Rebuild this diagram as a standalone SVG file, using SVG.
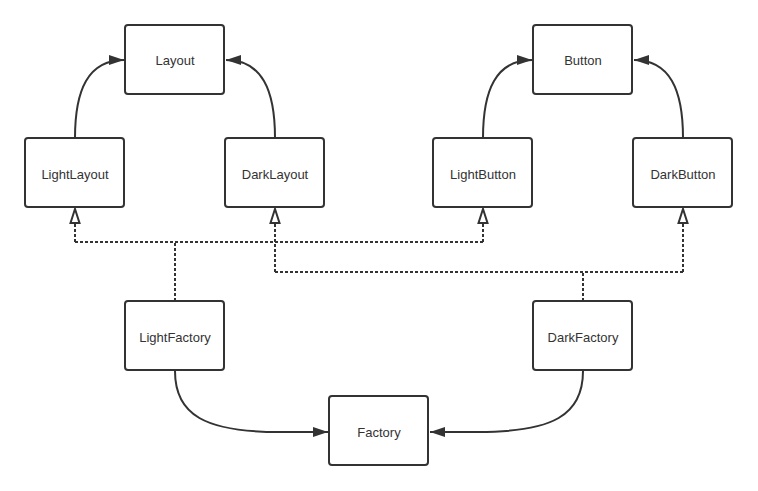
<svg xmlns="http://www.w3.org/2000/svg" width="758" height="491" viewBox="0 0 758 491">
<defs>
<style>
.box{fill:#fff;stroke:#333;stroke-width:2}
.lbl{font-family:"Liberation Sans",Arial,sans-serif;font-size:13px;fill:#333;text-anchor:middle;dominant-baseline:central}
.solid{fill:none;stroke:#333;stroke-width:2}
.dash{fill:none;stroke:#333;stroke-width:2;stroke-dasharray:3 2}
</style>
<marker id="fill" markerWidth="16" markerHeight="12" refX="15" refY="6" orient="auto" markerUnits="userSpaceOnUse">
<path d="M0,1 L15,6 L0,11 Z" fill="#333"/>
</marker>
<marker id="hollow" markerWidth="18" markerHeight="14" refX="15" refY="7" orient="auto" markerUnits="userSpaceOnUse">
<path d="M1,2.5 L15,7 L1,11.5 Z" fill="#fff" stroke="#333" stroke-width="2"/>
</marker>
</defs>
<rect width="758" height="491" fill="#fff"/>
<g id="connectors">
<path class="solid" d="M75,138 C75,90 88,60 124,60" marker-end="url(#fill)"/>
<path class="solid" d="M275,138 C275,90 262,60 226,60" marker-end="url(#fill)"/>
<path class="solid" d="M483,138 C483,90 496,60 532,60" marker-end="url(#fill)"/>
<path class="solid" d="M683,138 C683,90 670,60 634,60" marker-end="url(#fill)"/>
<path class="solid" d="M175,371 C175,415 205,432 280,432 L328,432" marker-end="url(#fill)"/>
<path class="solid" d="M583,371 C583,415 553,432 478,432 L430,432" marker-end="url(#fill)"/>
<path class="dash" d="M175,301 L175,242"/>
<path class="dash" d="M75,242 L483,242"/>
<path class="dash" d="M75,242 L75,209" marker-end="url(#hollow)"/>
<path class="dash" d="M483,242 L483,209" marker-end="url(#hollow)"/>
<path class="dash" d="M583,301 L583,272"/>
<path class="dash" d="M275,272 L683,272"/>
<path class="dash" d="M275,272 L275,209" marker-end="url(#hollow)"/>
<path class="dash" d="M683,272 L683,209" marker-end="url(#hollow)"/>
</g>
<g id="Layout"><rect class="box" x="125" y="25" width="99" height="69" rx="3"/><text class="lbl" x="175" y="60">Layout</text></g>
<g id="Button"><rect class="box" x="533" y="25" width="99" height="69" rx="3"/><text class="lbl" x="583" y="60">Button</text></g>
<g id="LightLayout"><rect class="box" x="25" y="138" width="99" height="69" rx="3"/><text class="lbl" x="75" y="174">LightLayout</text></g>
<g id="DarkLayout"><rect class="box" x="225" y="138" width="99" height="69" rx="3"/><text class="lbl" x="275" y="174">DarkLayout</text></g>
<g id="LightButton"><rect class="box" x="433" y="138" width="99" height="69" rx="3"/><text class="lbl" x="483" y="174">LightButton</text></g>
<g id="DarkButton"><rect class="box" x="633" y="138" width="99" height="69" rx="3"/><text class="lbl" x="683" y="174">DarkButton</text></g>
<g id="LightFactory"><rect class="box" x="125" y="301" width="99" height="69" rx="3"/><text class="lbl" x="175" y="337">LightFactory</text></g>
<g id="DarkFactory"><rect class="box" x="533" y="301" width="99" height="69" rx="3"/><text class="lbl" x="583" y="337">DarkFactory</text></g>
<g id="Factory"><rect class="box" x="329" y="396" width="99" height="69" rx="3"/><text class="lbl" x="379" y="432">Factory</text></g>
</svg>
